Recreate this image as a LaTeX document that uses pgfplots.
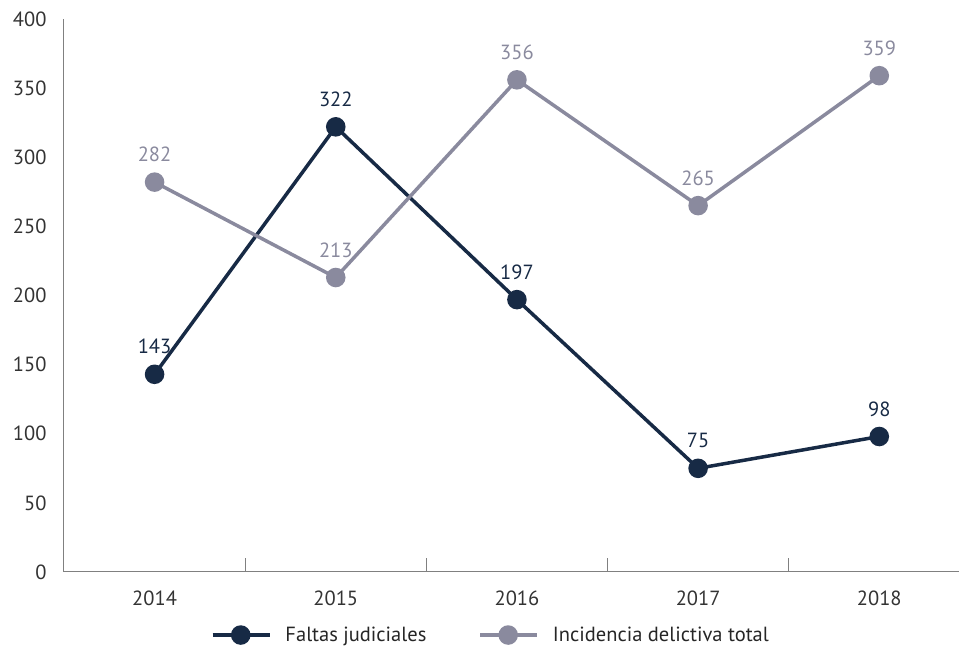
\documentclass[border=0pt]{standalone}
\usepackage{fontspec}
\setmainfont{PT Sans}
\usepackage{pgfplots}
\pgfplotsset{compat=1.18}
\definecolor{navy}{HTML}{172A45}
\definecolor{greyp}{HTML}{8A8A9E}
\definecolor{axgrey}{HTML}{808080}
\begin{document}
\begin{tikzpicture}
\begin{axis}[
  scale only axis,
  width=895pt, height=553pt,
  xmin=0.5, xmax=5.44, ymin=0, ymax=400,
  axis lines=left,
  axis line style={axgrey, line width=1pt, -},
  xtick={1,2,3,4,5},
  xticklabels={2014,2015,2016,2017,2018},
  minor xtick={1.5,2.5,3.5,4.5},
  major x tick style={draw=none},
  minor x tick style={axgrey, line width=1pt},
  minor tick length=14pt,
  tick align=inside,
  ytick={0,50,...,400},
  major y tick style={draw=none},
  /pgf/number format/assume math mode=true,
  tick label style={font=\fontsize{20.5}{24}\selectfont, text=black!80},
  yticklabel style={xshift=-14pt},
  xticklabel style={yshift=-15pt},
  clip=false,
  legend columns=2,
  legend style={draw=none, at={(rel axis cs:0.477,-0.114)}, anchor=center,
    font=\fontsize{20.5}{24}\selectfont, text=black!85,
    /tikz/every odd column/.append style={column sep=12pt},
    /tikz/every even column/.append style={column sep=50pt},
    inner sep=0pt},
  legend image code/.code={
    \draw[#1, mark repeat=2, mark phase=2] plot coordinates {(0pt,0pt) (28pt,0pt) (57pt,0pt)};
  },
  every axis plot/.append style={line width=3.5pt, mark=*, mark size=8pt},
  nodes near coords,
  every node near coord/.append style={font=\fontsize{20.5}{24}\selectfont, yshift=15pt},
]
\addplot[navy, mark options={fill=navy, draw=navy}, nodes near coords style={text=navy}] coordinates {(1,143) (2,322) (3,197) (4,75) (5,98)};
\addlegendentry{Faltas judiciales}
\addplot[greyp, mark options={fill=greyp, draw=greyp}, nodes near coords style={text=greyp}] coordinates {(1,282) (2,213) (3,356) (4,265) (5,359)};
\addlegendentry{Incidencia delictiva total}
\coordinate (BL) at (rel axis cs:0,0);
\coordinate (TR) at (rel axis cs:1,1);
\end{axis}
\pgfresetboundingbox
\path ([xshift=-64pt,yshift=-80pt]BL) rectangle ([yshift=19pt]TR);
\end{tikzpicture}
\end{document}
